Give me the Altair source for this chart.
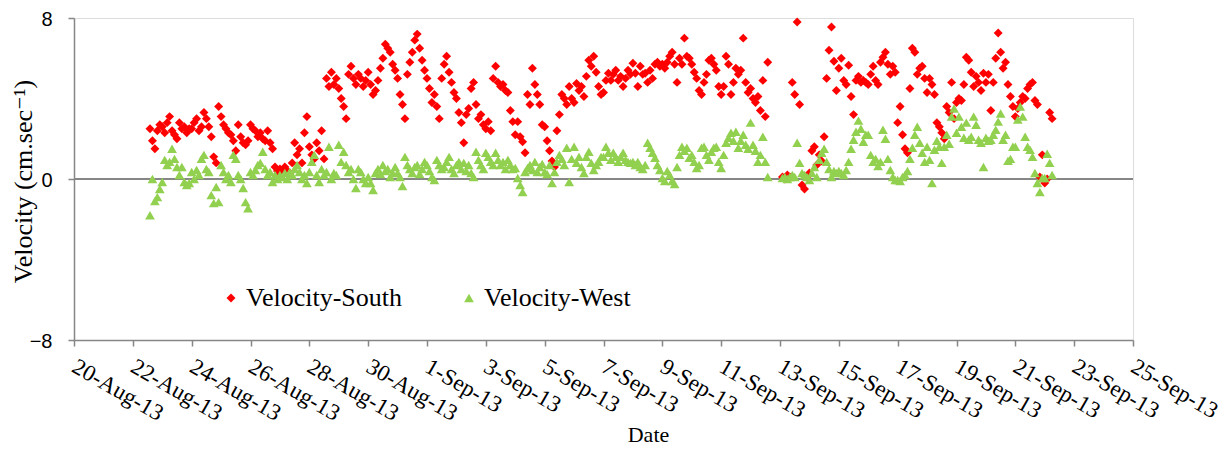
import altair as alt
import pandas as pd

# ---------------- data ----------------
SERIES = ["Velocity-South", "Velocity-West"]
COLORS = ["#FF0000", "#92D050"]
SHAPES = ["diamond", "triangle-up"]

STEP = "2h"
SEG_A_START = "2013-08-22 14:00"
SEG_B_START = "2013-09-13 02:00"

SOUTH_A = [
    2.5, 1.9, 1.5, 2.4, 2.7,
    2.6, 2.3, 2.8, 3.1, 2.4, 2.2, 2.0, 2.8, 2.5, 2.6, 2.3, 2.5,
    2.5, 2.8, 3.0, 2.4, 2.6, 3.3, 3.0, 2.6, 2.1, 1.1, 0.8, 3.6,
    3.1, 2.7, 2.5, 2.3, 2.2, 1.9, 1.4, 2.7, 2.1, 1.8, 1.7, 1.9,
    2.7, 2.5, 2.4, 2.1, 2.3, 2.0, 1.9, 2.4, 1.8, 1.5, 0.6, 0.4,
    0.5, 0.3, 0.6, 0.4, 0.3, 0.8, 1.8, 1.2, 1.5, 0.8, 2.3, 3.1,
    1.6, 1.2, 1.0, 1.8, 1.4, 2.4, 1.0, 5.0, 4.6, 5.3, 4.7, 5.0,
    4.5, 4.0, 3.6, 3.0, 5.2, 5.6, 5.0, 4.7, 5.2, 5.0, 4.6, 4.9,
    5.3, 4.7, 4.2, 4.4, 4.9, 5.5, 6.0, 6.7, 6.5, 6.3, 5.7, 5.4,
    5.0, 4.2, 3.7, 3.0, 5.2, 5.8, 6.3, 6.9, 7.2, 6.5, 5.9, 5.4,
    5.0, 4.5, 3.8, 4.2, 3.6, 3.0, 5.0, 5.7, 6.1, 5.3, 4.8, 4.3,
    4.0, 3.3, 2.8, 1.8, 3.2, 3.5, 4.5, 4.8, 3.7, 3.0, 3.2, 2.7,
    2.5, 2.85, 2.4, 5.0, 5.6, 4.8, 4.6, 4.7, 4.4, 4.3, 3.4, 2.85,
    2.2, 2.85, 2.1, 1.85, 1.3, 4.2, 3.7, 5.5, 4.7, 4.2, 3.7, 2.7,
    2.6, 1.9, 1.4, 0.9, 0.6, 2.4, 3.2, 4.2, 4.0, 3.7, 4.6, 4.0,
    3.8, 4.75, 4.4, 4.6, 4.1, 5.1, 5.9, 5.6, 6.1, 5.3, 4.6, 4.2,
    4.3, 4.9, 5.25, 4.9, 5.2, 5.4, 4.9, 5.1, 4.6, 5.0, 5.4, 5.2,
    5.75, 5.25, 4.6, 5.6, 5.2, 5.25, 4.8, 5.4, 5.0, 5.7, 5.8, 5.6,
    5.7, 5.5, 5.8, 6.1, 6.3, 5.7, 4.8, 6.0, 5.7, 7.0, 6.1, 6.0,
    5.7, 5.3, 5.0, 4.4, 4.2, 4.8, 5.2, 5.9, 6.0, 5.7, 5.4, 4.6,
    4.2, 4.6, 6.1, 5.7, 4.2, 4.8, 5.5, 5.2, 5.4, 7.0, 4.8, 4.3,
    4.5, 4.0, 3.8, 4.1, 3.4, 4.9, 3.1, 5.8,
]

SOUTH_B = [
    0.1, 0.0, 0.2, 0.1, 4.8, 4.2, 7.8, 3.7, -0.3, -0.5, 0.1,
    0.3, 1.4, 1.6, 0.7, 1.2, 0.9, 2.1, 5.0, 6.4, 7.55, 5.85, 4.4,
    5.5, 6.0, 4.9, 4.7, 5.65, 4.1, 3.2, 4.9, 5.1, 4.8, 4.9, 4.8,
    4.7, 5.2, 5.6, 4.9, 4.7, 5.8, 6.05, 6.3, 5.7, 5.2, 5.6, 5.3,
    2.8, 3.6, 2.2, 1.5, 1.3, 4.5, 6.5, 6.3, 5.2, 5.5, 5.6, 5.0,
    4.3, 5.0, 4.7, 4.2, 2.8, 2.6, 2.3, 2.0, 3.6, 3.3, 4.8, 3.0,
    3.8, 4.0, 3.9, 4.7, 6.05, 5.9, 5.3, 4.6, 5.1, 4.8, 4.4, 5.25,
    4.8, 5.2, 3.4, 4.8, 6.0, 7.25, 6.3, 5.5, 5.8, 4.7, 4.1, 3.6,
    3.1, 3.5, 3.8, 4.1, 4.0, 4.5, 4.7, 4.8, 3.9, 3.7, 0.1, 1.2,
    -0.2, 0.0, 3.3, 3.0,
]

WEST_A = [
    -1.8, 0.0, -1.1, -0.9, -0.5,
    -0.15, 0.95, 0.7, 0.85, 1.5, 1.0, 0.6, 0.2, 0.6, -0.15, -0.3, -0.2,
    0.35, 0.0, 0.45, 0.2, 1.0, 1.2, 0.5, 0.35, -0.8, -1.2, -0.4, -1.15,
    0.7, 0.35, 0.0, 0.2, -0.15, 1.2, 1.0, 0.2, 0.0, -0.45, -1.15, -1.45,
    0.35, 0.2, 0.45, 0.7, 0.8, 1.35, 0.5, 0.2, 0.35, -0.15, 0.2, 0.0,
    0.2, 0.1, 0.3, 0.0, 0.35, 0.2, 0.5, 0.7, 0.35, 0.0, 0.2, -0.2,
    0.35, 0.85, 1.2, 0.2, -0.15, 0.5, 0.2, 0.35, 1.6, 0.0, 0.3, 0.2,
    1.7, 0.85, 1.35, 0.7, 0.35, 0.5, 0.0, -0.45, 0.5, 0.35, 0.0, -0.2,
    0.1, -0.2, -0.55, 0.3, 0.5, 0.25, 0.7, 0.4, 0.5, 0.1, 0.3, 0.6,
    0.3, 0.1, -0.35, 1.1, 0.7, 0.5, 0.3, 0.6, 0.7, 0.25, 0.5, 0.85,
    0.7, 0.4, 0.1, -0.05, 0.95, 0.7, 0.5, 0.6, 0.85, 1.1, 0.5, 0.3,
    0.7, 0.85, 0.5, 0.8, 0.4, 0.7, 0.3, 0.1, 1.35, 0.95, 0.7, 0.5,
    1.3, 1.1, 0.85, 0.7, 1.3, 0.95, 0.7, 0.85, 0.5, 0.95, 0.7, 0.5,
    0.55, 0.05, -0.3, -0.65, 0.35, 0.55, 0.7, 0.45, 0.85, 0.35, 0.6, 0.75,
    0.35, 0.25, 0.7, -0.2, 0.35, 0.85, 1.2, 1.0, 0.7, 1.55, -0.15, 1.0,
    1.6, 0.8, 1.1, 0.6, 0.3, 1.1, 1.35, 0.8, 0.45, 0.7, 0.85, 1.1,
    1.1, 1.6, 1.3, 0.95, 1.3, 1.1, 0.85, 1.1, 1.3, 0.95, 0.85, 0.8,
    0.85, 0.7, 0.85, 0.6, 0.5, 0.7, 1.8, 1.55, 1.3, 1.05, 0.7, 0.45,
    0.05, -0.1, 0.4, 0.2, -0.1, -0.25, 0.6, 1.2, 1.6, 1.4, 1.55, 1.05,
    1.2, 0.85, 0.55, 0.7, 1.55, 1.6, 1.2, 0.95, 1.35, 1.55, 1.6, 0.85,
    0.55, 1.2, 1.8, 2.05, 2.3, 1.9, 2.35, 1.55, 1.9, 2.2, 1.7, 1.5,
    2.8, 1.7, 1.4, 0.85, 1.2, 2.1, 0.85, 0.1,
]

WEST_B = [
    0.05, 0.1, 0.0, 0.1, 0.2, 0.1, 1.8, 0.8, 0.3, 0.2, 0.1,
    -0.05, 0.3, 0.6, 0.1, 0.95, 1.3, 1.5, 0.85, 0.5, 0.1, 0.4, 0.3,
    0.4, 0.3, 0.2, 0.45, 0.85, 1.5, 1.95, 2.35, 2.9, 2.5, 1.85, 2.2,
    2.2, 1.2, 0.85, 1.0, 0.65, 0.85, 2.45, 2.0, 1.0, 0.45, 0.1, -0.05,
    -0.05, -0.1, 0.1, 0.2, 0.4, 1.0, 1.55, 2.2, 2.6, 1.8, 1.3, 0.85,
    1.6, 0.95, -0.2, 1.45, 1.9, 1.6, 0.8, 1.6, 2.2, 1.75, 3.1, 3.5,
    2.3, 3.1, 2.6, 2.05, 2.8, 1.95, 2.1, 3.1, 2.7, 1.95, 1.8, 0.6,
    2.05, 1.9, 1.95, 2.2, 2.45, 2.85, 3.25, 1.95, 2.2, 0.9, 1.0, 1.6,
    1.6, 2.95, 3.6, 3.1, 2.1, 1.6, 1.45, 1.1, 0.3, -0.2, -0.65, 0.05,
    0.05, 1.25, 0.8, 0.2,
]

TICK_DATES = [
    (2013, 8, 20), (2013, 8, 22), (2013, 8, 24), (2013, 8, 26), (2013, 8, 28),
    (2013, 8, 30), (2013, 9, 1), (2013, 9, 3), (2013, 9, 5), (2013, 9, 7),
    (2013, 9, 9), (2013, 9, 11), (2013, 9, 13), (2013, 9, 15), (2013, 9, 17),
    (2013, 9, 19), (2013, 9, 21), (2013, 9, 23), (2013, 9, 25),
]
X_DOMAIN = [(2013, 8, 20), (2013, 9, 25)]
Y_DOMAIN = [-8, 8]
Y_TICKS = [-8, 0, 8]
ZERO_LINE = [0]


def segment(start, values, name):
    times = pd.date_range(start, periods=len(values), freq=STEP)
    return pd.DataFrame({"t": times, "v": values, "s": name})


df = pd.concat(
    [
        segment(SEG_A_START, SOUTH_A, SERIES[0]),
        segment(SEG_B_START, SOUTH_B, SERIES[0]),
        segment(SEG_A_START, WEST_A, SERIES[1]),
        segment(SEG_B_START, WEST_B, SERIES[1]),
    ],
    ignore_index=True,
)
df["t"] = df["t"].dt.strftime("%Y-%m-%dT%H:%M:%S")


def dt(ymd):
    return alt.DateTime(year=ymd[0], month=ymd[1], date=ymd[2])


SERIF = "'Liberation Serif', 'Times New Roman', Times, 'DejaVu Serif', serif"
SANS = "'Liberation Sans', Arial, sans-serif"
AXIS_GRAY = "#868686"

x_enc = alt.X(
    "t:T",
    scale=alt.Scale(domain=[dt(d) for d in X_DOMAIN]),
    axis=alt.Axis(
        values=[dt(d) for d in TICK_DATES],
        format="%-d-%b-%y",
        labelAngle=30,
        labelAlign="left",
        labelBaseline="top",
        labelPadding=9,
        labelOffset=5,
        labelFont=SERIF,
        labelFontSize=23,
        labelColor="black",
        labelOverlap=False,
        labelFlush=False,
        tickSize=6,
        tickColor=AXIS_GRAY,
        tickWidth=1.5,
        domainColor=AXIS_GRAY,
        domainWidth=1.5,
        grid=False,
        title="Date",
        titleFont=SERIF,
        titleFontSize=22,
        titleFontWeight="normal",
        titleColor="black",
        titleX=574,
        titleY=84,
        titleAlign="center",
        titleBaseline="top",
    ),
)

y_enc = alt.Y(
    "v:Q",
    scale=alt.Scale(domain=Y_DOMAIN, nice=False, zero=False),
    axis=alt.Axis(
        values=Y_TICKS,
        labelFont=SANS,
        labelFontSize=20,
        labelOffset=1,
        labelColor="black",
        labelPadding=16,
        tickSize=6,
        tickColor=AXIS_GRAY,
        tickWidth=1.5,
        domainColor=AXIS_GRAY,
        domainWidth=1.5,
        grid=False,
        title="Velocity (cm.sec\u207b\u00b9)",
        titleFont=SERIF,
        titleFontSize=26,
        titleFontWeight="normal",
        titleColor="black",
        titleAngle=-90,
        titleX=-51,
        titleY=163,
        titleAlign="center",
        titleBaseline="middle",
    ),
)

zero = (
    alt.Chart(pd.DataFrame({"y": ZERO_LINE}))
    .mark_rule(color=AXIS_GRAY, strokeWidth=2)
    .encode(y=alt.Y("y:Q", scale=alt.Scale(domain=Y_DOMAIN, nice=False)))
)

legend_cfg = dict(
    title=None,
    orient="none",
    direction="horizontal",
    legendX=144,
    legendY=267,
    labelFont=SERIF,
    labelFontSize=26,
    labelColor="black",
    symbolSize=45,
    symbolStrokeWidth=0,
    labelOffset=2,
    columnPadding=54,
    padding=0,
)

points = (
    alt.Chart(df)
    .mark_point(filled=True, opacity=1, strokeWidth=0)
    .encode(
        x=x_enc,
        y=y_enc,
        color=alt.Color(
            "s:N",
            scale=alt.Scale(domain=SERIES, range=COLORS),
            sort=SERIES,
            legend=alt.Legend(**legend_cfg),
        ),
        shape=alt.Shape(
            "s:N",
            scale=alt.Scale(domain=SERIES, range=SHAPES),
            sort=SERIES,
            legend=alt.Legend(**legend_cfg),
        ),
        size=alt.Size(
            "s:N",
            scale=alt.Scale(domain=SERIES, range=[80, 95]),
            legend=None,
        ),
    )
)

chart = (
    alt.layer(zero, points)
    .properties(
        width=1059,
        height=322,
        autosize=alt.AutoSizeParams(type="none"),
        padding={"left": 66, "top": 10, "right": 90, "bottom": 105},
    )
    .configure_view(stroke="black", strokeWidth=1)
    .configure(background="white")
)

chart.save("out.html", embed_options={"renderer": "svg", "actions": False})
